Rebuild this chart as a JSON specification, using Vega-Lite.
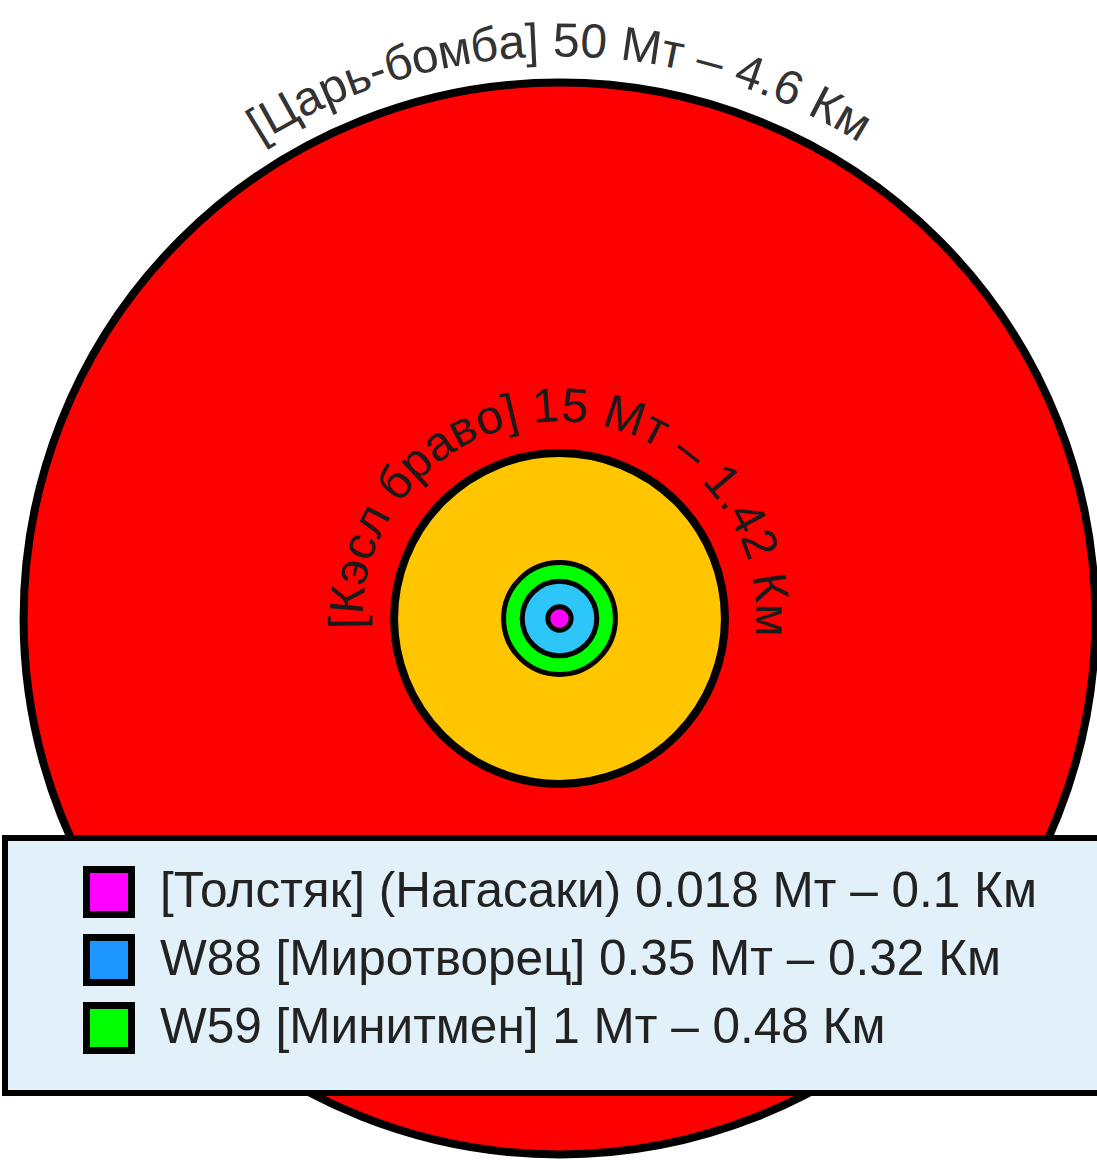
{
  "$schema": "https://vega.github.io/schema/vega-lite/v6.json",
  "width": 1097,
  "height": 1161,
  "padding": 0,
  "autosize": {"type": "none"},
  "background": "white",
  "config": {"view": {"stroke": null}},
  "datasets": {
    "weapons": [
      {"name": "Царь-бомба", "mt": 50, "km": 4.6, "label": "[Царь-бомба] 50 Мт – 4.6 Км"},
      {"name": "Кэсл браво", "mt": 15, "km": 1.42, "label": "[Кэсл браво] 15 Мт – 1.42 Км"},
      {"name": "W59 Минитмен", "mt": 1, "km": 0.48, "label": "W59 [Минитмен] 1 Мт – 0.48 Км"},
      {"name": "W88 Миротворец", "mt": 0.35, "km": 0.32, "label": "W88 [Миротворец] 0.35 Мт – 0.32 Км"},
      {"name": "Толстяк", "mt": 0.018, "km": 0.1, "label": "[Толстяк] (Нагасаки) 0.018 Мт – 0.1 Км"}
    ],
    "tsar": [
      {"ch": "[", "deg": -31.52}, {"ch": "Ц", "deg": -29.03}, {"ch": "а", "deg": -25.86},
      {"ch": "р", "deg": -23.14}, {"ch": "ь", "deg": -20.51}, {"ch": "-", "deg": -18.42},
      {"ch": "б", "deg": -16.24}, {"ch": "о", "deg": -13.52}, {"ch": "м", "deg": -10.5},
      {"ch": "б", "deg": -7.49}, {"ch": "а", "deg": -4.77}, {"ch": "]", "deg": -2.73},
      {"ch": "5", "deg": 0.68}, {"ch": "0", "deg": 3.4}, {"ch": "М", "deg": 8.16},
      {"ch": "т", "deg": 11.31}, {"ch": "–", "deg": 15.16}, {"ch": "4", "deg": 19.24},
      {"ch": ".", "deg": 21.28}, {"ch": "6", "deg": 23.32}, {"ch": "К", "deg": 27.47},
      {"ch": "м", "deg": 30.55}
    ],
    "bravo": [
      {"ch": "[", "deg": -91.04}, {"ch": "К", "deg": -84.95}, {"ch": "э", "deg": -77.22},
      {"ch": "с", "deg": -70.08}, {"ch": "л", "deg": -62.49}, {"ch": "б", "deg": -50.58},
      {"ch": "р", "deg": -42.72}, {"ch": "а", "deg": -34.86}, {"ch": "в", "deg": -27.17},
      {"ch": "о", "deg": -19.49}, {"ch": "]", "deg": -13.58}, {"ch": "1", "deg": -3.76},
      {"ch": "5", "deg": 4.1}, {"ch": "М", "deg": 17.86}, {"ch": "т", "deg": 26.99},
      {"ch": "–", "deg": 38.09}, {"ch": "1", "deg": 49.88}, {"ch": ".", "deg": 55.78},
      {"ch": "4", "deg": 61.67}, {"ch": "2", "deg": 69.53}, {"ch": "К", "deg": 81.52},
      {"ch": "м", "deg": 90.43}
    ]
  },
  "layer": [
    {
      "data": {"name": "weapons"},
      "transform": [{"filter": "datum.km >= 1"}],
      "mark": {"type": "point", "shape": "circle", "filled": true, "opacity": 1, "stroke": "black", "strokeWidth": 8},
      "encoding": {
        "x": {"datum": 0, "type": "quantitative", "scale": {"domain": [-4.8026, 4.6137], "nice": false, "zero": false}, "axis": null},
        "y": {"datum": 0, "type": "quantitative", "scale": {"domain": [-4.6567, 5.309], "nice": false, "zero": false}, "axis": null},
        "size": {"field": "km", "type": "quantitative", "scale": {"type": "pow", "exponent": 2, "domain": [0, 4.6], "range": [0, 1148755]}, "legend": null},
        "fill": {"field": "name", "type": "nominal", "scale": {"domain": ["Царь-бомба", "Кэсл браво", "W59 Минитмен", "W88 Миротворец", "Толстяк"], "range": ["#ff0000", "#ffc600", "#00ff00", "#2cc6f8", "#ff00ff"]}, "legend": null},
        "order": {"field": "km", "type": "quantitative", "sort": "descending"}
      }
    },
    {
      "data": {"name": "weapons"},
      "transform": [{"filter": "datum.km < 1"}],
      "mark": {"type": "point", "shape": "circle", "filled": true, "opacity": 1, "stroke": "black", "strokeWidth": 5},
      "encoding": {
        "x": {"datum": 0, "type": "quantitative"},
        "y": {"datum": 0, "type": "quantitative"},
        "size": {"field": "km", "type": "quantitative", "legend": null},
        "fill": {"field": "name", "type": "nominal", "legend": null},
        "order": {"field": "km", "type": "quantitative", "sort": "descending"}
      }
    },
    {
      "data": {"name": "weapons"},
      "transform": [{"filter": "datum.km < 1"}],
      "mark": {"type": "point", "shape": "square", "filled": true, "opacity": 0},
      "encoding": {
        "x": {"datum": 0, "type": "quantitative"},
        "y": {"datum": 0, "type": "quantitative"},
        "color": {
          "field": "label", "type": "nominal",
          "scale": {"domain": ["[Толстяк] (Нагасаки) 0.018 Мт – 0.1 Км", "W88 [Миротворец] 0.35 Мт – 0.32 Км", "W59 [Минитмен] 1 Мт – 0.48 Км"], "range": ["#ff00ff", "#1e96ff", "#00ff00"]},
          "legend": {
            "title": "\u00a0", "titleOrient": "right", "titlePadding": 45, "titleFontSize": 10, "titleColor": "#e2f0fa",
            "orient": "none", "legendX": 5, "legendY": 838,
            "padding": 28, "symbolOffset": 50, "symbolType": "square", "symbolSize": 2025,
            "symbolStrokeWidth": 7, "symbolStrokeColor": "black", "symbolOpacity": 1,
            "labelOffset": 25, "labelFont": "Liberation Sans", "labelFontSize": 49.5, "labelColor": "#222222",
            "labelLimit": 2000, "rowPadding": -6, "fillColor": "#e2f0fa", "strokeColor": "black",
            "encoding": {"legend": {"strokeWidth": {"value": 6}}, "symbols": {"stroke": {"value": "black"}, "strokeWidth": {"value": 7}}}
          }
        }
      }
    },
    {
      "data": {"name": "tsar"},
      "mark": {"type": "text", "font": "Liberation Sans", "fontSize": 48, "radius": 562, "align": "center", "baseline": "alphabetic", "color": "#333333"},
      "encoding": {
        "x": {"datum": 0, "type": "quantitative"},
        "y": {"datum": 0, "type": "quantitative"},
        "theta": {"field": "deg", "type": "quantitative", "stack": null, "scale": {"domain": [-180, 180], "range": [-3.14159265, 3.14159265]}},
        "angle": {"field": "deg", "type": "quantitative", "scale": {"domain": [-180, 180], "range": [-180, 180]}},
        "text": {"field": "ch", "type": "nominal"}
      }
    },
    {
      "data": {"name": "bravo"},
      "mark": {"type": "text", "font": "Liberation Sans", "fontSize": 48, "radius": 197, "align": "center", "baseline": "alphabetic", "color": "#1a1a1a"},
      "encoding": {
        "x": {"datum": 0, "type": "quantitative"},
        "y": {"datum": 0, "type": "quantitative"},
        "theta": {"field": "deg", "type": "quantitative", "stack": null},
        "angle": {"field": "deg", "type": "quantitative"},
        "text": {"field": "ch", "type": "nominal"}
      }
    }
  ]
}
